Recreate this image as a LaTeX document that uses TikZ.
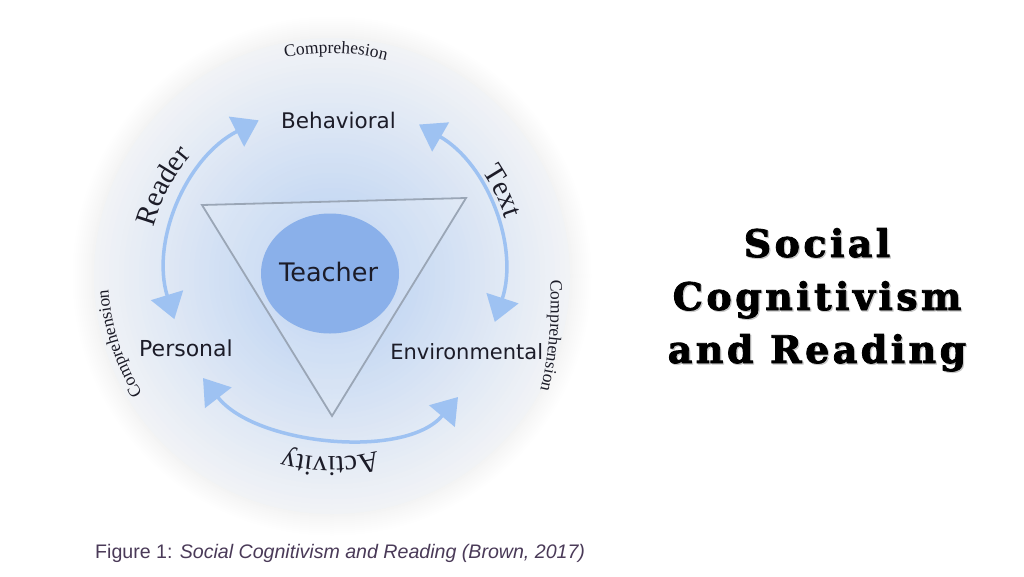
\documentclass[tikz,border=0pt]{standalone}
\usepackage{fontspec}
\setmainfont{Liberation Serif}
\newfontfamily\vsans{DejaVu Sans}
\newfontfamily\capfont{Liberation Sans}
\newfontfamily\ttlfont[LetterSpace=9,FakeBold=2.2]{DejaVu Serif}
\usetikzlibrary{arrows.meta,decorations.text}
\definecolor{glowc}{HTML}{8DB6EE}
\definecolor{ringc}{HTML}{F3F4F6}
\definecolor{arrc}{HTML}{9EC2F2}
\definecolor{ellc}{HTML}{8AB0EA}
\definecolor{tric}{HTML}{9AA6B6}
\definecolor{labc}{HTML}{1C1C28}
\definecolor{capc}{HTML}{4A3A58}
\newcommand\cmpfont{\fontsize{17.5pt}{19pt}\selectfont}
\newcommand\bigserif{\fontsize{29pt}{32pt}\selectfont}
\tikzset{
  arr/.style={draw=arrc, line width=3.5pt, {Triangle[length=25pt,width=33pt]}-{Triangle[length=25pt,width=33pt]}},
  lab/.style={text=labc, font=\vsans\fontsize{21.5pt}{24pt}\selectfont, inner sep=0pt, anchor=base},
  ttl/.style={font=\ttlfont\bfseries\fontsize{38pt}{42pt}\selectfont, inner sep=0pt, anchor=base},
  curved/.style={decorate, decoration={text along path, text align=center, text color=labc, text={#1}}}
}
\begin{document}
\begin{tikzpicture}[x=1pt,y=1pt]
\useasboundingbox[fill=white] (0,0) rectangle (1024,-576);
% centres
\coordinate (G) at (332,-276);
\coordinate (A) at (335,-270);
\coordinate (L) at (330,-275);
\coordinate (R) at (190.8,-304.2);
% glow
\foreach \i in {0,...,24}{
  \pgfmathsetmacro{\r}{260-\i}
  \pgfmathsetmacro{\q}{5*\i/24}
  \fill[black!\q!white] (G) circle[radius=\r pt];
}
\foreach \i in {0,...,47}{
  \pgfmathsetmacro{\r}{238-5*\i}
  \pgfmathsetmacro{\p}{62*(1-\r/245)}
  \fill[glowc!\p!ringc] (G) circle[radius=\r pt];
}
% triangle
\coordinate (t1) at (202,-205);
\coordinate (t2) at (466,-198);
\coordinate (t3) at (332,-416);
\fill[white, fill opacity=0.15] (t1) -- (t2) -- (t3) -- cycle;
\draw[tric, line width=1.8pt, line join=miter] (t1) -- (t2) -- (t3) -- cycle;
% teacher ellipse
\fill[ellc] (330,-273.5) ellipse[x radius=69pt, y radius=60pt];
% labels
\node[lab] (beh) at (338.5,-128) {Behavioral};
\node[lab, font=\vsans\fontsize{25.5pt}{28pt}\selectfont] (tea) at (328.5,-281) {Teacher};
\node[lab, font=\vsans\fontsize{22pt}{24pt}\selectfont] (per) at (186,-356) {Personal};
\node[lab, font=\vsans\fontsize{21pt}{24pt}\selectfont] (env) at (466.7,-359) {Environmental};
% arrows
\coordinate (r1) at ([shift={(197:168)}]A);
\coordinate (x1) at ([shift={(-18:168)}]A);
\coordinate (a1) at (203,-378);
\coordinate (a2) at (458,-397);
\draw[arr] (r1) arc[start angle=197, end angle=117, radius=168pt];
\draw[arr] (x1) arc[start angle=-18, end angle=60, radius=168pt];
\draw[arr] (a1) .. controls (255,-445) and (405,-460) .. (a2);
% curved texts
\path[curved={|\cmpfont|Comprehesion}] ([shift={(108.5:222)}]L) arc[start angle=108.5, end angle=68.5, radius=222pt];
\path[curved={|\cmpfont|Comprehension}] ([shift={(220:222)}]L) arc[start angle=220, end angle=176, radius=222pt];
\path[curved={|\cmpfont|Comprehension}] ([shift={(14:360)}]R) arc[start angle=14, end angle=-24, radius=360pt];
\path[curved={|\bigserif|Reader}] ([shift={(177:183)}]L) arc[start angle=177, end angle=127, radius=183pt];
\path[curved={|\bigserif|Text}] ([shift={(51:184)}]L) arc[start angle=51, end angle=1, radius=184pt];
\path[curved={|\bigserif|Activity}] ([shift={(295:182)}]L) arc[start angle=295, end angle=245, radius=182pt];
% title
\foreach \n/\t/\y in {1/Social/257, 2/Cognitivism/310, 3/and Reading/363}{
  \node[ttl, text=black!22] (ts\n) at (818.2,-\y-1.2) {\t};
  \node[ttl, text=black] (tt\n) at (817,-\y) {\t};
}
% caption
\node[anchor=base west, inner sep=0pt, text=capc, font=\capfont\fontsize{19.6pt}{22pt}\selectfont] (cap) at (95,-558) {Figure 1: \textit{Social Cognitivism and Reading (Brown, 2017)}};
\end{tikzpicture}
\end{document}
